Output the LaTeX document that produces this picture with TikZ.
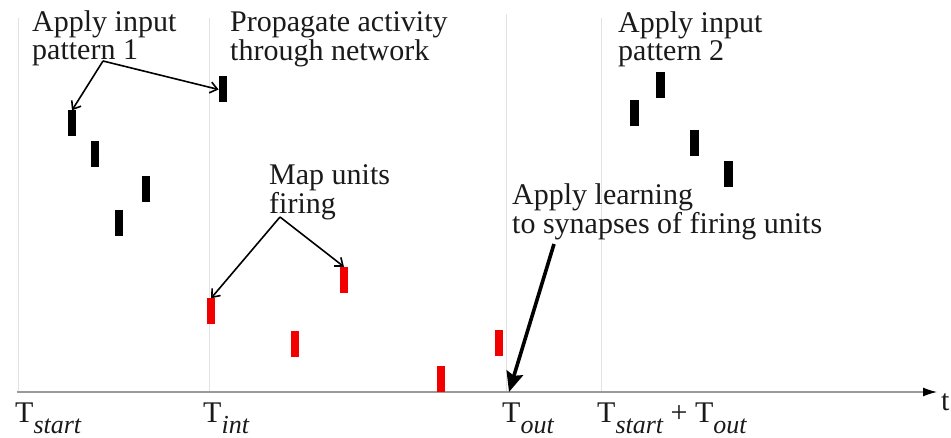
\documentclass[tikz,border=0pt]{standalone}
\usepackage{fontspec}
\setmainfont{Liberation Serif}
\usetikzlibrary{arrows.meta}

\definecolor{inkgray}{HTML}{1A1A1A}
\definecolor{gridgray}{HTML}{E2E2E2}
\definecolor{axisgray}{HTML}{9A9A9A}
\definecolor{firered}{HTML}{F20000}

% two left-aligned lines whose baseline is the first line
\newcommand{\twolines}[2]{\begin{tabular}[t]{@{}l@{}}#1\\#2\end{tabular}}
% italic lowered subscript for the time labels
\newcommand{\tsub}[1]{\raisebox{-11pt}{\fontsize{26}{26}\selectfont\itshape #1}}

\tikzset{
  unitbar/.style={rectangle, inner sep=0pt, minimum width=8.5pt, minimum height=26pt, fill=#1, draw=none},
  note/.style={inner sep=0pt, anchor=base west, text=inkgray,
    font=\fontsize{30}{25.5}\selectfont},
  gridline/.style={draw=gridgray, line width=0.9pt},
  axisline/.style={draw=axisgray, line width=1.2pt,
    -{Latex[length=14pt, width=9pt, color=black]}},
  pointer/.style={draw=black, line width=1.6pt,
    -{Straight Barb[length=7pt, width=11pt, line width=1.6pt]}},
  bigpointer/.style={draw=black, line width=3.6pt,
    -{Stealth[length=20pt, width=17pt, inset=3pt]}},
}

\begin{document}
\begin{tikzpicture}[x=1pt, y=-1pt]
  \useasboundingbox (0,0) rectangle (951,438);

  % time markers
  \draw[gridline] (18,18) -- (18,392);
  \draw[gridline] (209,18) -- (209,392);
  \draw[gridline] (506,14) -- (506,392);
  \draw[gridline] (601,18) -- (601,392);

  % time axis
  \coordinate (origin) at (17,392);
  \coordinate (axisend) at (937,392);
  \draw[axisline] (origin) -- (axisend);
  \node[note] (tlabel) at (941,410) {t};

  % axis labels
  \node[note] (tstart) at (15,422) {T\tsub{start}};
  \node[note] (tint) at (203,422) {T\tsub{int}};
  \node[note] (tout) at (502,422) {T\tsub{out}};
  \node[note] (tnext) at (597,422) {T\tsub{start} + T\tsub{out}};

  % input pattern 1 and propagated activity
  \node[unitbar=black] (b1) at (72,123.5) {};
  \node[unitbar=black] (b2) at (95,154.5) {};
  \node[unitbar=black] (b3) at (146,189.5) {};
  \node[unitbar=black] (b4) at (119,223) {};
  \node[unitbar=black] (b5) at (223,89.5) {};

  % input pattern 2
  \node[unitbar=black] (p1) at (634.5,113.5) {};
  \node[unitbar=black] (p2) at (660.5,85) {};
  \node[unitbar=black] (p3) at (694.5,143.5) {};
  \node[unitbar=black] (p4) at (728.5,174.5) {};

  % map units firing
  \node[unitbar=firered] (r1) at (211,311.5) {};
  \node[unitbar=firered] (r2) at (295,344.5) {};
  \node[unitbar=firered] (r3) at (344,280) {};
  \node[unitbar=firered] (r4) at (441,379.5) {};
  \node[unitbar=firered] (r5) at (499,343.5) {};

  % annotations
  \node[note] (applyone) at (32,32) {\twolines{Apply input}{pattern 1}};
  \node[note] (propagate) at (230,32) {\twolines{Propagate activity}{through network}};
  \node[note] (mapunits) at (269,185) {\twolines{Map units}{firing}};
  \node[note] (learning) at (512,205) {\twolines{Apply learning}{to synapses of firing units}};
  \node[note] (applytwo) at (618,33) {\twolines{Apply input}{pattern 2}};

  % pointers
  \coordinate (forkone) at (103,61);
  \draw[pointer] (forkone) -- (b1.north);
  \draw[pointer] (forkone) -- (b5.west);

  \coordinate (forkmap) at (280,217);
  \draw[pointer] (forkmap) -- (r1.north);
  \draw[pointer] (forkmap) -- (r3.north);

  \coordinate (learnstart) at (554,244);
  \coordinate (learnend) at (509,392);
  \draw[bigpointer] (learnstart) -- (learnend);
\end{tikzpicture}
\end{document}
